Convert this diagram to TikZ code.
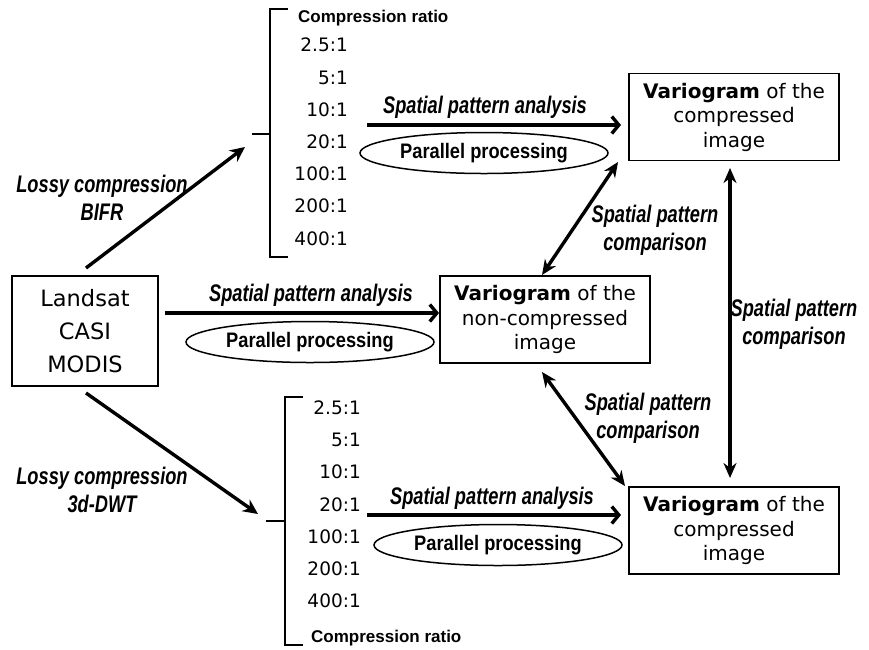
\documentclass[tikz,border=0pt]{standalone}
\usepackage{fontspec}
\setmainfont{DejaVu Sans}
\newfontfamily\labfont[FakeStretch=0.76]{Liberation Sans}
\newfontfamily\narfont[FakeStretch=0.87]{Liberation Sans}
\newfontfamily\arialfont{Liberation Sans}
\usetikzlibrary{arrows.meta,shapes.geometric}
\tikzset{
  vbox/.style={draw, line width=1.2pt, minimum width=210pt, minimum height=87pt, align=center, inner sep=0pt, font=\fontsize{20}{24.5}\selectfont},
  srcbox/.style={draw, line width=1.5pt, minimum width=146pt, minimum height=110pt, align=center, inner sep=0pt, font=\fontsize{22.5}{33}\selectfont},
  ell/.style={draw, ellipse, line width=1.5pt, minimum width=248pt, minimum height=41pt, inner sep=0pt, font=\narfont\bfseries\fontsize{21}{24}\selectfont},
  lab/.style={font=\labfont\bfseries\itshape\fontsize{24}{28}\selectfont, align=center, inner sep=0pt},
  ratio/.style={anchor=east, inner sep=0pt, font=\fontsize{18.5}{20}\selectfont},
  crt/.style={anchor=west, inner sep=0pt, font=\arialfont\bfseries\fontsize{17}{20}\selectfont},
  brk/.style={line width=1.3pt},
  harr/.style={line width=3.4pt, -{Straight Barb[length=7pt,width=17pt,line width=3.4pt]}},
  darr/.style={line width=3.4pt, -{Stealth[length=15pt,width=14pt]}},
  dbl/.style={line width=3.4pt, {Stealth[length=15pt,width=13pt]}-{Stealth[length=15pt,width=13pt]}}
}
\begin{document}
\begin{tikzpicture}[x=1pt,y=-1pt]
\useasboundingbox[fill=white] (0,0) rectangle (869,649);

% boxes
\node[srcbox] (src) at (85,331) {Landsat\\CASI\\MODIS};
\node[vbox] (vmid) at (545,319.5) {\textbf{Variogram} of the\\non-compressed\\image};
\node[vbox] (vtop) at (734,117) {\textbf{Variogram} of the\\compressed\\image};
\node[vbox] (vbot) at (734,530.5) {\textbf{Variogram} of the\\compressed\\image};

% ellipses
\node[ell] (etop) at (484,153) {Parallel processing};
\node[ell] (emid) at (310,342) {Parallel processing};
\node[ell] (ebot) at (498,545) {Parallel processing};

% top bracket
\draw[brk] (288,9) -- (270,9) -- (270,257) -- (288,257);
\coordinate (btop) at (252,134);
\draw[brk] (270,134) -- (btop);
\node[crt] (ctop) at (298,18) {Compression ratio};
\node[ratio] (t1) at (348,45) {2.5:1};
\node[ratio] (t2) at (348,78) {5:1};
\node[ratio] (t3) at (348,110) {10:1};
\node[ratio] (t4) at (348,142) {20:1};
\node[ratio] (t5) at (348,174) {100:1};
\node[ratio] (t6) at (348,206) {200:1};
\node[ratio] (t7) at (348,239) {400:1};

% bottom bracket
\draw[brk] (303,397) -- (285,397) -- (285,645) -- (303,645);
\coordinate (bbot) at (266,521);
\draw[brk] (285,521) -- (bbot);
\node[ratio] (b1) at (361,408) {2.5:1};
\node[ratio] (b2) at (361,440) {5:1};
\node[ratio] (b3) at (361,472) {10:1};
\node[ratio] (b4) at (361,505) {20:1};
\node[ratio] (b5) at (361,537) {100:1};
\node[ratio] (b6) at (361,569) {200:1};
\node[ratio] (b7) at (361,601) {400:1};
\node[crt] (cbot) at (311,638) {Compression ratio};

% lossy compression arrows
\coordinate (s1) at (86,268);
\coordinate (e1) at (245,147);
\draw[darr] (s1) -- (e1);
\node[lab] (l1) at (102,198) {Lossy compression\\BIFR};
\coordinate (s2) at (86,393);
\coordinate (e2) at (258,514);
\draw[darr] (s2) -- (e2);
\node[lab] (l2) at (102,490) {Lossy compression\\3d-DWT};

% spatial pattern analysis arrows
\coordinate (a1s) at (367,125);
\coordinate (a1e) at (621,125);
\draw[harr] (a1s) -- (a1e);
\node[lab] (sa1) at (485,107) {Spatial pattern analysis};
\coordinate (a2s) at (165,313);
\coordinate (a2e) at (439,313);
\draw[harr] (a2s) -- (a2e);
\node[lab] (sa2) at (311,295) {Spatial pattern analysis};
\coordinate (a3s) at (367,515);
\coordinate (a3e) at (621,515);
\draw[harr] (a3s) -- (a3e);
\node[lab] (sa3) at (492,498) {Spatial pattern analysis};

% comparison arrows
\coordinate (c1a) at (618,162);
\coordinate (c1b) at (542,275);
\draw[dbl] (c1a) -- (c1b);
\node[lab] (cl1) at (655,230) {Spatial pattern\\comparison};
\coordinate (c2a) at (730,168);
\coordinate (c2b) at (730,478);
\draw[dbl] (c2a) -- (c2b);
\node[lab] (cl2) at (794,324) {Spatial pattern\\comparison};
\coordinate (c3a) at (542,372);
\coordinate (c3b) at (625,486);
\draw[dbl] (c3a) -- (c3b);
\node[lab] (cl3) at (648,418) {Spatial pattern\\comparison};
\end{tikzpicture}
\end{document}
